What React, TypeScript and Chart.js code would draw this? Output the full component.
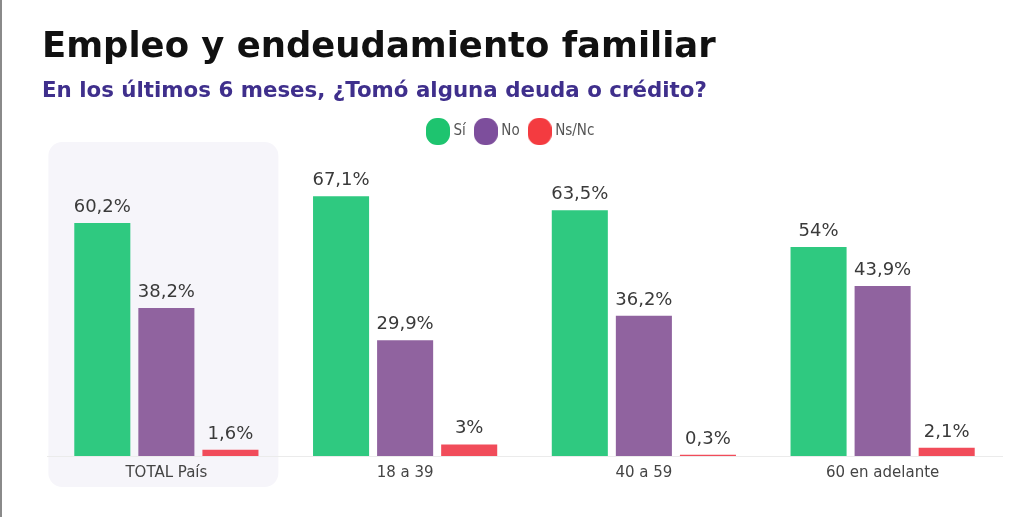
import { useEffect, useMemo, useRef } from "react"
import { Chart, registerables } from "chart.js"

Chart.register(...registerables)

const categories = ["TOTAL País", "18 a 39", "40 a 59", "60 en adelante"]
const seriesNames = ["Sí", "No", "Ns/Nc"]
const siValues = [60.2, 67.1, 63.5, 54]
const noValues = [38.2, 29.9, 36.2, 43.9]
const nsncValues = [1.6, 3, 0.3, 2.1]

const barColors = ["#2fc980", "#90639f", "#f14c5a"]
const legendColors = ["#1ec46f", "#7d4e9c", "#f43b40"]

const TITLE = "Empleo y endeudamiento familiar"
const SUBTITLE = "En los últimos 6 meses, ¿Tomó alguna deuda o crédito?"

// font size that makes the text span the target width
function fitFontSize(text: string, weight: string, family: string, target: number, base: number) {
  const ctx = document.createElement("canvas").getContext("2d")
  if (!ctx) return base
  ctx.font = `${weight} ${base}px ${family}`
  const w = ctx.measureText(text).width
  return w > 0 ? (base * target) / w : base
}

function makeMarker(color: string) {
  const c = document.createElement("canvas")
  c.width = 24
  c.height = 27
  const ctx = c.getContext("2d")
  if (ctx) {
    ctx.fillStyle = color
    ctx.beginPath()
    ctx.roundRect(0, 0, 24, 27, 11)
    ctx.fill()
  }
  return c
}

const formatValue = (v: number) => String(v).replace(".", ",") + "%"

const totalPanel = {
  id: "totalPanel",
  beforeDraw(chart: any) {
    const { ctx, chartArea, scales } = chart
    const c = scales.x.getPixelForValue(0)
    const top = chartArea.top - 7
    const bottom = chartArea.bottom + 31
    ctx.save()
    ctx.fillStyle = "#f6f5fa"
    ctx.beginPath()
    ctx.roundRect(c - 118, top, 230, bottom - top, 14)
    ctx.fill()
    ctx.restore()
  },
}

// legend is left aligned, then moved so the first marker starts at x≈426
const legendShift = {
  id: "legendShift",
  afterLayout(chart: any) {
    if (chart.legend) {
      chart.legend.left += 371
      chart.legend.right += 371
    }
  },
}

const valueLabels = {
  id: "valueLabels",
  afterDatasetsDraw(chart: any) {
    const { ctx } = chart
    ctx.save()
    ctx.font = '18px "DejaVu Sans"'
    ctx.fillStyle = "#3a3a3a"
    ctx.textAlign = "center"
    ctx.textBaseline = "alphabetic"
    chart.data.datasets.forEach((ds: any, i: number) => {
      const meta = chart.getDatasetMeta(i)
      meta.data.forEach((bar: any, j: number) => {
        ctx.fillText(formatValue(ds.data[j]), bar.x, bar.y - 11)
      })
    })
    ctx.restore()
  },
}

export default function App() {
  const chartRef = useRef<HTMLCanvasElement>(null)
  const chartInstance = useRef<Chart | null>(null)

  const titleSize = useMemo(() => fitFontSize(TITLE, "bold", '"DejaVu Sans"', 674, 30), [])
  const subtitleSize = useMemo(() => fitFontSize(SUBTITLE, "bold", '"DejaVu Sans"', 665, 20), [])

  useEffect(() => {
    document.body.style.margin = "0"
    if (!chartRef.current) return

    if (chartInstance.current) {
      chartInstance.current.destroy()
    }

    const ctx = chartRef.current.getContext("2d")
    if (!ctx) return

    const markers = legendColors.map(makeMarker)
    const values = [siValues, noValues, nsncValues]

    chartInstance.current = new Chart(ctx, {
      type: "bar",
      data: {
        labels: categories,
        datasets: seriesNames.map((name, i) => ({
          label: name,
          data: values[i],
          backgroundColor: barColors[i],
          borderWidth: 0,
          categoryPercentage: 0.805,
          barPercentage: 0.875,
        })),
      },
      options: {
        animation: false,
        responsive: false,
        layout: { padding: { top: 112, left: 47, right: 22, bottom: 35 } },
        plugins: {
          legend: {
            position: "top",
            align: "start",
            labels: {
              usePointStyle: true,
              pointStyleWidth: 16,
              padding: 12,
              color: "#555555",
              font: { family: '"DejaVu Sans Condensed", "Liberation Sans Narrow", Roboto, sans-serif', size: 15 },
              generateLabels: (chart: any) =>
                chart.data.datasets.map((ds: any, i: number) => ({
                  text: ds.label,
                  pointStyle: markers[i],
                  fillStyle: legendColors[i],
                  strokeStyle: legendColors[i],
                  lineWidth: 0,
                  hidden: false,
                  datasetIndex: i,
                  fontColor: "#555555",
                })),
            },
          },
          tooltip: { enabled: false },
        },
        scales: {
          x: {
            grid: { display: false },
            border: { display: true, color: "#ebebeb", width: 1 },
            ticks: {
              padding: 0,
              color: "#444444",
              font: { family: '"DejaVu Sans"', size: 15 },
            },
          },
          y: { display: false, min: 0, max: 79.3 },
        },
      },
      plugins: [totalPanel, legendShift, valueLabels],
    })

    return () => {
      if (chartInstance.current) {
        chartInstance.current.destroy()
        chartInstance.current = null
      }
    }
  }, [])

  return (
    <div style={{ position: "relative", width: 1024, height: 517, background: "#ffffff", overflow: "hidden" }}>
      <canvas ref={chartRef} width={1024} height={517} style={{ display: "block" }} />
      <div style={{ position: "absolute", left: 0, top: 0, width: 2, height: 517, background: "#8a8a8a" }} />
      <div
        style={{
          position: "absolute",
          left: 42,
          top: 57 - 0.846 * titleSize,
          fontFamily: '"DejaVu Sans"',
          fontWeight: "bold",
          fontSize: titleSize,
          lineHeight: `${titleSize}px`,
          color: "#111111",
          whiteSpace: "nowrap",
        }}
      >
        {TITLE}
      </div>
      <div
        style={{
          position: "absolute",
          left: 42,
          top: 97 - 0.846 * subtitleSize,
          fontFamily: '"DejaVu Sans"',
          fontWeight: "bold",
          fontSize: subtitleSize,
          lineHeight: `${subtitleSize}px`,
          color: "#3f2f8c",
          whiteSpace: "nowrap",
        }}
      >
        {SUBTITLE}
      </div>
    </div>
  )
}
